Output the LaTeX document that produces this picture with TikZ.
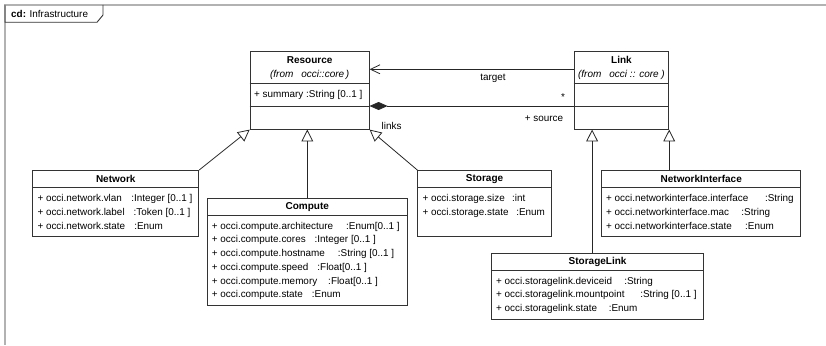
\documentclass[tikz,border=0pt]{standalone}
\usepackage{fontspec}
\setmainfont{Liberation Sans}
\usetikzlibrary{arrows.meta,positioning}
\tikzset{>=latex}
\tikzstyle{classbox}=[rectangle,draw=black!80,line width=0.9pt,inner sep=0pt,anchor=north west]
\tikzstyle{divider}=[draw=black!80,line width=0.9pt]
\tikzstyle{ctitle}=[font=\bfseries,inner sep=0pt]
\tikzstyle{cfrom}=[font=\itshape,inner sep=0pt]
\tikzstyle{attr}=[anchor=west,inner sep=0pt]
\tikzstyle{lbl}=[inner sep=0pt]
\tikzstyle{inherit}=[draw=black!85,line width=0.8pt,-{Triangle[open,length=11.7pt,width=11.7pt,fill=white]}]
\tikzstyle{assoc}=[draw=black!85,line width=0.8pt]

\begin{document}
\begin{tikzpicture}[x=1pt,y=-1pt,font=\fontsize{9.9}{12}\selectfont]
\useasboundingbox (0,0) rectangle (826,345);

% frame and tab
\draw[gray!60,line width=1.5pt] (826,5) -- (5,5) -- (5,345);
\draw[black!80,line width=0.9pt] (5,5) -- (5,22.3) -- (97,22.3) -- (103,15) -- (103,5);
\node[attr] (tab) at (11,14.3) {\textbf{cd:} Infrastructure};

% core classes
\node[classbox,minimum width=119pt,minimum height=78pt] (res) at (249.7,50.7) {};
\node[classbox,minimum width=94.6pt,minimum height=78pt] (lnk) at (573.7,50.7) {};
\foreach \c in {res,lnk} {
	\draw[divider] ([yshift=-32.3pt]\c.north west) -- ([yshift=-32.3pt]\c.north east);
	\draw[divider] ([yshift=-55.3pt]\c.north west) -- ([yshift=-55.3pt]\c.north east);
};
\node[ctitle] (resT) at ([yshift=-9.3pt]res.north) {Resource};
\node[cfrom] (resF) at ([yshift=-24.6pt]res.north) {(from\hspace{8pt}occi::core\,)};
\node[attr] (res1) at ([xshift=4.3pt,yshift=-43.8pt]res.north west) {+ summary :String [0..1 ]};
\node[ctitle] (lnkT) at ([yshift=-9pt]lnk.north) {Link};
\node[cfrom] (lnkF) at ([yshift=-24.6pt]lnk.north) {(from\hspace{8pt}occi :: core )};

% infrastructure classes
\node[classbox,minimum width=166pt,minimum height=66.3pt] (net) at (32.3,170) {};
\node[classbox,minimum width=199.7pt,minimum height=107.3pt] (comp) at (207,198) {};
\node[classbox,minimum width=133.7pt,minimum height=65.7pt] (stor) at (417.3,170) {};
\node[classbox,minimum width=199pt,minimum height=66.3pt] (nif) at (601.3,170) {};
\node[classbox,minimum width=211.7pt,minimum height=65.7pt] (slink) at (491.3,253.3) {};
\foreach \c/\t in {net/Network,comp/Compute,stor/Storage,nif/NetworkInterface,slink/StorageLink} {
	\draw[divider] ([yshift=-17.3pt]\c.north west) -- ([yshift=-17.3pt]\c.north east);
	\node[ctitle] (\c T) at ([yshift=-8.8pt]\c.north) {\t};
};

\foreach \nm/\ty/\gp [count=\i] in {occi.network.vlan/:Integer [0..1 ]/9.3,occi.network.label/:Token [0..1 ]/9,occi.network.state/:Enum/9} {
	\node[attr] (net\i) at ([xshift=5pt,yshift={-28.7pt-13.75pt*(\i-1)}]net.north west) {+ \nm\hspace{\gp pt}\ty};
};
\foreach \nm/\ty/\gp [count=\i] in {occi.compute.architecture/:Enum[0..1 ]/13,occi.compute.cores/:Integer [0..1 ]/9,occi.compute.hostname/:String [0..1 ]/13,occi.compute.speed/:Float[0..1 ]/9,occi.compute.memory/:Float[0..1 ]/11,occi.compute.state/:Enum/9} {
	\node[attr] (comp\i) at ([xshift=4.7pt,yshift={-28.7pt-13.72pt*(\i-1)}]comp.north west) {+ \nm\hspace{\gp pt}\ty};
};
\foreach \nm/\ty/\gp [count=\i] in {occi.storage.size/:int/7.3,occi.storage.state/:Enum/7.7} {
	\node[attr] (stor\i) at ([xshift=5pt,yshift={-28.7pt-13.75pt*(\i-1)}]stor.north west) {+ \nm\hspace{\gp pt}\ty};
};
\foreach \nm/\ty/\gp [count=\i] in {occi.networkinterface.interface/:String/16.7,occi.networkinterface.mac/:String/12.3,occi.networkinterface.state/:Enum/13.3} {
	\node[attr] (nif\i) at ([xshift=4.7pt,yshift={-28.7pt-13.75pt*(\i-1)}]nif.north west) {+ \nm\hspace{\gp pt}\ty};
};
\foreach \nm/\ty/\gp [count=\i] in {occi.storagelink.deviceid/:String/12.3,occi.storagelink.mountpoint/:String [0..1 ]/15.7,occi.storagelink.state/:Enum/11.7} {
	\node[attr] (slink\i) at ([xshift=4.7pt,yshift={-28.4pt-13.7pt*(\i-1)}]slink.north west) {+ \nm\hspace{\gp pt}\ty};
};

% associations
\draw[assoc,-{Straight Barb[length=9.5pt,width=9pt]}] ([yshift=-18.6pt]lnk.north west) -- ([yshift=-18.6pt]res.north east);
\draw[assoc,{Diamond[length=18pt,width=8pt]}-] ([yshift=-55.3pt]res.north east) -- ([yshift=-55.3pt]lnk.north west);
\node[lbl] (tgt) at (493,78) {target};
\node[lbl] (star) at (563,97) {*};
\node[lbl] (src) at (544,119) {+ source};
\node[attr] (links) at (381.5,125.5) {links};

% generalisations
\draw[inherit] (net.north east) -- (res.south west);
\draw[inherit] (comp.north) -- (comp.north |- res.south);
\draw[inherit] (stor.north west) -- (res.south east);
\draw[inherit] ([xshift=-5.5pt]slink.north) -- ([xshift=-5.5pt]slink.north |- lnk.south);
\draw[inherit] (nif.north -| lnk.south east) -- (lnk.south east);

\end{tikzpicture}
\end{document}
